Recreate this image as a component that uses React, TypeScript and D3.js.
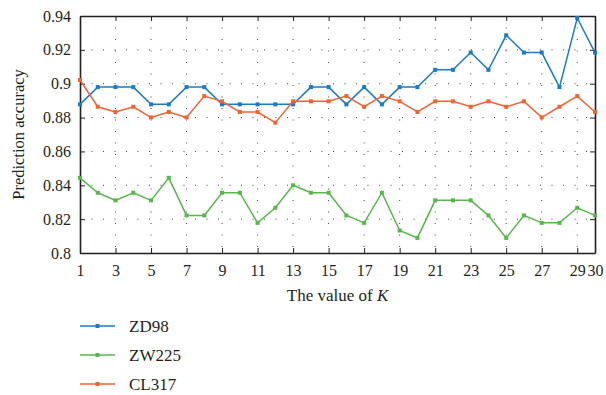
import React, { useRef, useEffect } from "react"
import * as d3 from "d3"

// K values 1..30
const kValues = d3.range(1, 31)

const zd98 = [
  0.8878, 0.898, 0.898, 0.898, 0.8878, 0.8878, 0.898, 0.898, 0.8878, 0.8878,
  0.8878, 0.8878, 0.8878, 0.898, 0.898, 0.8878, 0.898, 0.8878, 0.898, 0.898,
  0.9082, 0.9082, 0.9184, 0.9082, 0.9286, 0.9184, 0.9184, 0.898, 0.9388, 0.9184
]
const zw225 = [
  0.8444, 0.8356, 0.8311, 0.8356, 0.8311, 0.8444, 0.8222, 0.8222, 0.8356, 0.8356,
  0.8178, 0.8267, 0.84, 0.8356, 0.8356, 0.8222, 0.8178, 0.8356, 0.8133, 0.8089,
  0.8311, 0.8311, 0.8311, 0.8222, 0.8089, 0.8222, 0.8178, 0.8178, 0.8267, 0.8222
]
const cl317 = [
  0.9022, 0.8864, 0.8833, 0.8864, 0.8801, 0.8833, 0.8801, 0.8927, 0.8896, 0.8833,
  0.8833, 0.877, 0.8896, 0.8896, 0.8896, 0.8927, 0.8864, 0.8927, 0.8896, 0.8833,
  0.8896, 0.8896, 0.8864, 0.8896, 0.8864, 0.8896, 0.8801, 0.8864, 0.8927, 0.8833
]

const seriesNames = ["ZD98", "ZW225", "CL317"]
const seriesColors = ["#1a7cc7", "#56b848", "#f26331"]

const xTicks = [1, 3, 5, 7, 9, 11, 13, 15, 17, 19, 21, 23, 25, 27, 29, 30]
const yTicks = [0.8, 0.82, 0.84, 0.86, 0.88, 0.9, 0.92, 0.94]

const App = () => {
  const svgRef = useRef(null)

  useEffect(() => {
    const svgWidth = 606
    const svgHeight = 395
    const margin = { top: 16, right: 11, bottom: 142, left: 80 }
    const width = svgWidth - margin.left - margin.right
    const height = svgHeight - margin.top - margin.bottom
    const font = "'Liberation Serif', 'Times New Roman', serif"
    const ink = "#231f20"

    const root = d3.select(svgRef.current)
    root.selectAll("*").remove()
    root.attr("width", svgWidth).attr("height", svgHeight)

    const svg = root.append("g").attr("transform", `translate(${margin.left},${margin.top})`)

    const xScale = d3.scaleLinear().domain([1, 30]).range([0, width])
    const yScale = d3.scaleLinear().domain([0.8, 0.94]).range([height, 0])

    // dotted grid
    svg
      .selectAll(".vgrid")
      .data(xTicks.slice(1, -1))
      .enter()
      .append("line")
      .attr("x1", (d) => xScale(d))
      .attr("x2", (d) => xScale(d))
      .attr("y1", 0)
      .attr("y2", height)
      .attr("stroke", "#444")
      .attr("stroke-width", 1)
      .attr("stroke-dasharray", "1,10.5")
    svg
      .selectAll(".hgrid")
      .data(yTicks.slice(1, -1))
      .enter()
      .append("line")
      .attr("x1", 0)
      .attr("x2", width)
      .attr("y1", (d) => yScale(d))
      .attr("y2", (d) => yScale(d))
      .attr("stroke", "#444")
      .attr("stroke-width", 1)
      .attr("stroke-dasharray", "1,10.5")

    // axes, ticks pointing inward
    const fmtY = (d) => d3.format("")(+d.toFixed(2))
    const bottom = svg
      .append("g")
      .attr("transform", `translate(0,${height})`)
      .call(d3.axisBottom(xScale).tickValues(xTicks).tickSizeInner(-5).tickSizeOuter(0).tickPadding(12))
    const top = svg
      .append("g")
      .call(d3.axisTop(xScale).tickValues(xTicks).tickSizeInner(-5).tickSizeOuter(0).tickFormat(() => ""))
    const left = svg
      .append("g")
      .call(d3.axisLeft(yScale).tickValues(yTicks).tickSizeInner(-5).tickSizeOuter(0).tickPadding(9).tickFormat(fmtY))
    const right = svg
      .append("g")
      .attr("transform", `translate(${width},0)`)
      .call(d3.axisRight(yScale).tickValues(yTicks).tickSizeInner(-5).tickSizeOuter(0).tickFormat(() => ""))

    ;[bottom, top, left, right].forEach((g) => {
      g.attr("font-family", font)
      g.select(".domain").attr("stroke", ink).attr("stroke-width", 1.6)
      g.selectAll(".tick line").attr("stroke", ink).attr("stroke-width", 1)
      g.selectAll("text").attr("font-family", font).attr("font-size", 16).attr("fill", ink)
    })

    // series
    const allSeries = [zd98, zw225, cl317]
    const line = d3
      .line()
      .x((d, i) => xScale(kValues[i]))
      .y((d) => yScale(d))

    allSeries.forEach((values, s) => {
      svg
        .append("path")
        .datum(values)
        .attr("d", line)
        .attr("fill", "none")
        .attr("stroke", seriesColors[s])
        .attr("stroke-width", 1.5)
      svg
        .selectAll(`.m${s}`)
        .data(values)
        .enter()
        .append("rect")
        .attr("x", (d, i) => xScale(kValues[i]) - 2)
        .attr("y", (d) => yScale(d) - 2)
        .attr("width", 4)
        .attr("height", 4)
        .attr("fill", seriesColors[s])
    })

    // axis titles
    const xTitle = root
      .append("text")
      .attr("x", margin.left + width / 2)
      .attr("y", 301)
      .attr("text-anchor", "middle")
      .attr("font-family", font)
      .attr("font-size", 17)
      .attr("fill", ink)
    xTitle.append("tspan").text("The value of ")
    xTitle.append("tspan").attr("font-style", "italic").text("K")

    root
      .append("text")
      .attr("transform", `translate(24,${margin.top + height / 2}) rotate(-90)`)
      .attr("text-anchor", "middle")
      .attr("font-family", font)
      .attr("font-size", 16.5)
      .attr("fill", ink)
      .text("Prediction accuracy")

    // legend
    const legend = root
      .selectAll(".legend")
      .data(seriesNames)
      .enter()
      .append("g")
      .attr("transform", (d, i) => `translate(80,${326 + i * 29})`)
    legend
      .append("line")
      .attr("x1", 0)
      .attr("x2", 35)
      .attr("stroke", (d, i) => seriesColors[i])
      .attr("stroke-width", 1.6)
    legend
      .append("rect")
      .attr("x", 15.5)
      .attr("y", -2)
      .attr("width", 4)
      .attr("height", 4)
      .attr("fill", (d, i) => seriesColors[i])
    legend
      .append("text")
      .attr("x", 49)
      .attr("y", 6)
      .attr("font-family", font)
      .attr("font-size", 17)
      .attr("fill", ink)
      .text((d) => d)
  }, [])

  return (
    <svg ref={svgRef} style={{ position: "absolute", left: 0, top: 0 }}></svg>
  )
}

export default App
